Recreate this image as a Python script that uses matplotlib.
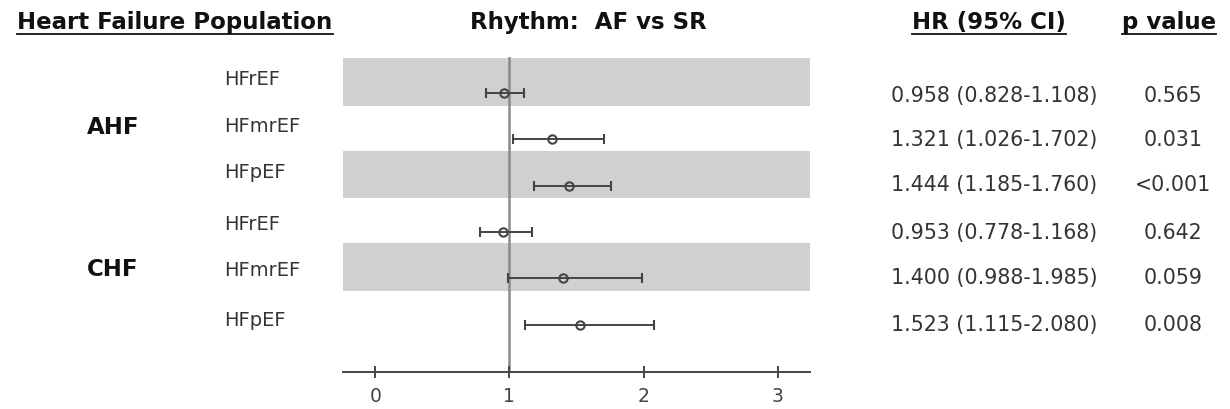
import matplotlib
matplotlib.use("Agg")
import matplotlib.pyplot as plt
from matplotlib.lines import Line2D

# ---- data ----
groups = ["AHF", "CHF"]
subtypes = ["HFrEF", "HFmrEF", "HFpEF", "HFrEF", "HFmrEF", "HFpEF"]
hr = [0.958, 1.321, 1.444, 0.953, 1.400, 1.523]
ci_low = [0.828, 1.026, 1.185, 0.778, 0.988, 1.115]
ci_high = [1.108, 1.702, 1.760, 1.168, 1.985, 2.080]
p_values = ["0.565", "0.031", "<0.001", "0.642", "0.059", "0.008"]
x_ticks = [0, 1, 2, 3]

plt.rcParams['font.family'] = ['DejaVu Sans']

W, H = 1230, 410
fig = plt.figure(figsize=(W / 100, H / 100), dpi=100)

def fx(px):
    return px / W

def fy(py):
    return 1 - py / H

ax_l, ax_r, ax_t, ax_b = 343, 810, 58, 373
ax = fig.add_axes([fx(ax_l), fy(ax_b), fx(ax_r - ax_l), (ax_b - ax_t) / H])

n = len(hr)
ys = list(range(n))
ax.set_xlim(-0.24, 3.24)
ax.set_ylim(n - 1 + 1.02, -0.78)

# shaded bands
for i in range(0, n, 2):
    ax.axhspan(i - 0.76, i + 0.27, color="#d0d0d0", lw=0, zorder=0)

# reference line
ax.axvline(1, color="#8a8a8a", lw=1.8, zorder=1)

# error bars
err_lo = [h - l for h, l in zip(hr, ci_low)]
err_hi = [u - h for h, u in zip(hr, ci_high)]
ax.errorbar(hr, ys, xerr=[err_lo, err_hi], fmt="o", color="#444444",
            ecolor="#444444", elinewidth=1.4, capsize=3.8, capthick=1.4,
            markersize=6, markerfacecolor="none", markeredgecolor="#444444",
            markeredgewidth=1.5, zorder=3)

for s in ["top", "right", "left"]:
    ax.spines[s].set_visible(False)
ax.spines["bottom"].set_color("#444444")
ax.spines["bottom"].set_linewidth(1.4)
ax.set_yticks([])
ax.set_xticks(x_ticks)
ax.set_xticklabels([str(t) for t in x_ticks])
ax.tick_params(axis="x", direction="inout", length=8, width=1.4, color="#444444",
               labelcolor="#444444", labelsize=13.5, pad=6)

# row labels
label_y_px = [80, 127, 173, 225, 270, 321]
for lab, py in zip(subtypes, label_y_px):
    fig.text(fx(224), fy(py), lab, ha="left", va="center", fontsize=14, color="#333333")

# group labels
fig.text(fx(113), fy(127), groups[0], ha="center", va="center", fontsize=16.5,
         fontweight="bold", color="#111111")
fig.text(fx(113), fy(270), groups[1], ha="center", va="center", fontsize=16.5,
         fontweight="bold", color="#111111")

# HR text and p values
point_y_px = [96, 140, 185, 233, 278, 325]
for h, l, u, p, py in zip(hr, ci_low, ci_high, p_values, point_y_px):
    fig.text(fx(994), fy(py), f"{h:.3f} ({l:.3f}-{u:.3f})", ha="center", va="center",
             fontsize=14.8, color="#333333")
    fig.text(fx(1173), fy(py), p, ha="center", va="center", fontsize=14.8, color="#333333")

# headers
headers = [
    ("Heart Failure Population", 175, True),
    ("Rhythm:  AF vs SR", 588, False),
    ("HR (95% CI)", 989, True),
    ("p value", 1169, True),
]
fig.canvas.draw()
renderer = fig.canvas.get_renderer()
for txt, px, underline in headers:
    t = fig.text(fx(px), fy(22), txt, ha="center", va="center", fontsize=16.5,
                 fontweight="bold", color="#111111")
    if underline:
        bb = t.get_window_extent(renderer=renderer)
        yline = bb.y0 - 1
        fig.add_artist(Line2D([bb.x0 / W, bb.x1 / W], [yline / H, yline / H],
                              transform=fig.transFigure, color="#111111", lw=1.3))

fig.savefig("out.png", dpi=100)
